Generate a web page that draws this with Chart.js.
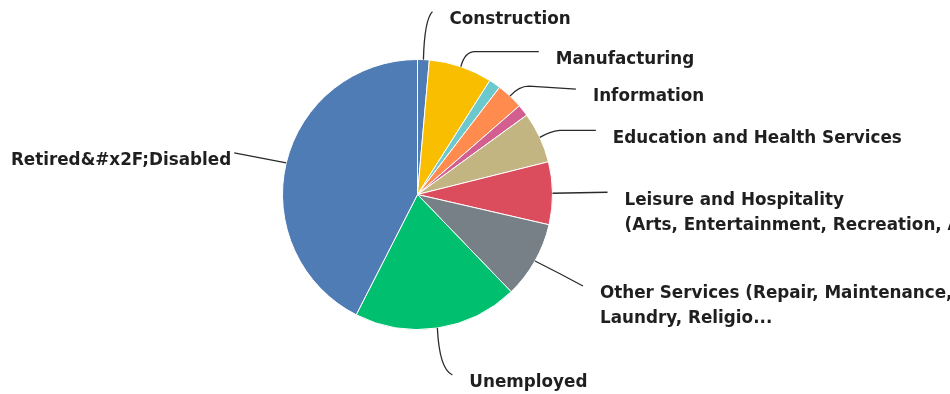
<!DOCTYPE html>
<html>
<head>
<meta charset="utf-8">
<script src="https://cdn.jsdelivr.net/npm/chart.js@4.4.1/dist/chart.umd.min.js"></script>
<style>
  body { margin: 0; background: #fff; }
  #wrap { width: 950px; height: 394px; }
</style>
</head>
<body>
<div id="wrap"><canvas id="pie" width="950" height="394"></canvas></div>
<script>
// categories, clockwise from 12 o'clock
var categories = [
  'Construction',
  'Manufacturing',
  'Trade, Transportation, and Utilities',
  'Information',
  'Financial Activities',
  'Education and Health Services',
  'Leisure and Hospitality\n(Arts, Entertainment, Recreation, Accommodation,...',
  'Other Services (Repair, Maintenance,\nLaundry, Religio...',
  'Unemployed',
  'Retired&#x2F;Disabled'
];
// percent of respondents
var shares = [1.4, 7.6, 1.4, 3.2, 1.4, 6.1, 7.5, 9.2, 19.7, 42.5];
var sliceColors = [
  '#507CB6', '#F9BE00', '#6BC8CD', '#FF8B4F', '#D25F90',
  '#C3B581', '#DB4D5C', '#768086', '#00BF6F', '#507CB6'
];

// leader line shapes, offsets from the slice's outer mid point
// c = curve control, p = end of curve, e = end of straight part
var leaders = [
  { c: [1, -40], p: [9, -48] },
  { c: [4, -15], p: [14, -15], e: [78, -15] },
  null,
  { c: [9, -10], p: [19, -10], e: [66, -7] },
  null,
  { c: [10, -6], p: [20, -7], e: [56, -7] },
  { p: [55, -1] },
  { c: [24, 12], p: [48, 25] },
  { c: [2, 41], p: [15, 47] },
  { p: [-52, -10], left: true }
];

var labelFont = 'bold 16.8px "DejaVu Sans", sans-serif';

var leaderLabels = {
  id: 'leaderLabels',
  afterDatasetsDraw: function(chart) {
    var c = chart.ctx;
    var arcs = chart.getDatasetMeta(0).data;
    c.save();
    for (var i = 0; i < arcs.length; i++) {
      var L = leaders[i];
      if (!L) continue;
      var a = arcs[i];
      var mid = (a.startAngle + a.endAngle) / 2;
      var ax = a.x + Math.cos(mid) * a.outerRadius;
      var ay = a.y + Math.sin(mid) * a.outerRadius;

      c.strokeStyle = '#2a2a2a';
      c.lineWidth = 1.3;
      c.beginPath();
      c.moveTo(ax, ay);
      if (L.c) c.quadraticCurveTo(ax + L.c[0], ay + L.c[1], ax + L.p[0], ay + L.p[1]);
      else c.lineTo(ax + L.p[0], ay + L.p[1]);
      var end = L.p;
      if (L.e) { c.lineTo(ax + L.e[0], ay + L.e[1]); end = L.e; }
      c.stroke();

      var ex = ax + end[0], ey = ay + end[1];
      c.fillStyle = '#1f1f1f';
      c.font = labelFont;
      c.textBaseline = 'middle';
      var lines = chart.data.labels[i].split('\n');
      if (L.left) {
        c.textAlign = 'right';
        ex -= 3;
      } else {
        c.textAlign = 'left';
        ex += 17;
      }
      for (var j = 0; j < lines.length; j++) {
        c.fillText(lines[j], ex, ey + 8 + j * 25);
      }
    }
    c.restore();
  }
};

new Chart(document.getElementById('pie'), {
  type: 'pie',
  data: {
    labels: categories,
    datasets: [{
      data: shares,
      backgroundColor: sliceColors,
      borderColor: '#ffffff',
      borderWidth: 1
    }]
  },
  options: {
    responsive: false,
    animation: false,
    layout: { padding: { top: 59, bottom: 64, left: 282, right: 397 } },
    plugins: {
      legend: { display: false },
      tooltip: { enabled: false }
    }
  },
  plugins: [leaderLabels]
});
</script>
</body>
</html>
